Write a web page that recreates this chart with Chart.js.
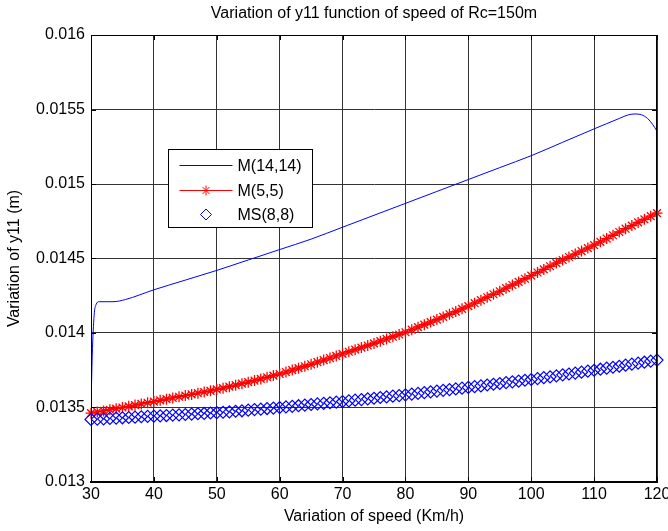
<!DOCTYPE html>
<html><head><meta charset="utf-8">
<script src="https://cdn.jsdelivr.net/npm/chart.js@4.4.0/dist/chart.umd.min.js"></script>
<style>html,body{margin:0;padding:0;background:#fff;}</style>
</head><body>
<canvas id="c" width="668" height="531"></canvas>
<script>
// ---------- data ----------
const chartTitle = 'Variation of y11 function of speed of Rc=150m';
const xAxisTitle = 'Variation of speed (Km/h)';
const yAxisTitle = 'Variation of y11 (m)';
const seriesNames = ['M(14,14)', 'M(5,5)', 'MS(8,8)'];

const xTicks = [30, 40, 50, 60, 70, 80, 90, 100, 110, 120];
const yTicks = [0.013, 0.0135, 0.014, 0.0145, 0.015, 0.0155, 0.016];
const yTickLabels = ['0.013', '0.0135', '0.014', '0.0145', '0.015', '0.0155', '0.016'];

// M(14,14) – solid blue line
const m1414Speed = [30, 30.2, 30.5, 30.8, 31.3, 33.5, 35.5, 40, 45, 50, 55, 60, 65, 70, 75, 80, 85, 90, 95, 100, 105, 110, 112, 114, 115.5, 116.5, 117.5, 118.5, 119.3, 120];
const m1414 = [0.01350, 0.01385, 0.01412, 0.01419, 0.01421, 0.01421, 0.014225, 0.01429, 0.014355, 0.01442, 0.01449, 0.01456, 0.01463, 0.01471, 0.01479, 0.01487, 0.01495, 0.01503, 0.01511, 0.01519, 0.01528, 0.01537, 0.015405, 0.01544, 0.015465, 0.01547, 0.015465, 0.01544, 0.01540, 0.015355];

// speeds for the marker series (Km/h)
const speeds = [30,31,32,33,34,35,36,37,38,39,40,41,42,43,44,45,46,47,48,49,50,51,52,53,54,55,56,57,58,59,60,61,62,63,64,65,66,67,68,69,70,71,72,73,74,75,76,77,78,79,80,81,82,83,84,85,86,87,88,89,90,91,92,93,94,95,96,97,98,99,100,101,102,103,104,105,106,107,108,109,110,111,112,113,114,115,116,117,118,119,120];

// M(5,5) – red line with star markers
const m55 = [
0.013462,0.013470,0.013477,0.013485,0.013492,0.013500,0.013508,0.013516,0.013524,0.013532,
0.013540,0.013548,0.013556,0.013564,0.013572,0.013580,0.013588,0.013596,0.013604,0.013612,
0.013621,0.013630,0.013640,0.013650,0.013660,0.013670,0.013681,0.013692,0.013703,0.013714,
0.013725,0.013738,0.013751,0.013764,0.013777,0.013790,0.013804,0.013818,0.013832,0.013846,
0.013860,0.013874,0.013888,0.013902,0.013916,0.013930,0.013945,0.013960,0.013975,0.013990,
0.014005,0.014022,0.014039,0.014056,0.014073,0.014090,0.014108,0.014126,0.014144,0.014162,
0.014180,0.014200,0.014220,0.014240,0.014260,0.014280,0.014301,0.014322,0.014343,0.014364,
0.014385,0.014406,0.014427,0.014448,0.014469,0.014490,0.014510,0.014530,0.014550,0.014570,
0.014590,0.014612,0.014634,0.014656,0.014678,0.014700,0.014721,0.014742,0.014763,0.014784,
0.014805];

// MS(8,8) – blue diamond markers
const ms88 = [
0.013420,0.013422,0.013424,0.013427,0.013429,0.013431,0.013433,0.013435,0.013438,0.013440,
0.013442,0.013444,0.013446,0.013449,0.013451,0.013453,0.013456,0.013458,0.013460,0.013463,
0.013465,0.013468,0.013471,0.013475,0.013478,0.013482,0.013486,0.013489,0.013493,0.013496,
0.013500,0.013504,0.013508,0.013512,0.013516,0.013520,0.013524,0.013528,0.013532,0.013536,
0.013540,0.013544,0.013549,0.013553,0.013558,0.013562,0.013567,0.013571,0.013576,0.013580,
0.013585,0.013590,0.013595,0.013600,0.013605,0.013610,0.013615,0.013620,0.013625,0.013630,
0.013635,0.013640,0.013645,0.013651,0.013656,0.013661,0.013667,0.013672,0.013677,0.013683,
0.013688,0.013694,0.013700,0.013706,0.013712,0.013719,0.013725,0.013731,0.013737,0.013744,
0.013750,0.013757,0.013764,0.013770,0.013777,0.013784,0.013791,0.013798,0.013804,0.013811,
0.013818];

// ---------- chart ----------
const FONT = '"Liberation Sans", Arial, Helvetica, sans-serif';
const BLUE = '#0000ff', RED = '#ff0000';
const pts = (xs, ys) => xs.map((x, i) => ({x: x, y: ys[i]}));

function drawStar(ctx, x, y, r) {
  ctx.beginPath();
  for (let k = 0; k < 4; k++) {
    const a = k * Math.PI / 4;
    ctx.moveTo(x - Math.cos(a) * r, y - Math.sin(a) * r);
    ctx.lineTo(x + Math.cos(a) * r, y + Math.sin(a) * r);
  }
  ctx.stroke();
}
function drawDiamond(ctx, x, y, r) {
  ctx.beginPath();
  ctx.moveTo(x - r, y); ctx.lineTo(x, y - r); ctx.lineTo(x + r, y); ctx.lineTo(x, y + r);
  ctx.closePath(); ctx.stroke();
}

const framePlugin = {
  id: 'frame',
  afterDatasetsDraw(chart) {
    const {ctx, chartArea: a, scales: {x, y}} = chart;
    ctx.save();
    ctx.strokeStyle = '#000';
    ctx.lineWidth = 1;
    ctx.beginPath();
    x.ticks.forEach(t => {
      const px = Math.round(x.getPixelForValue(t.value)) + 0.5;
      ctx.moveTo(px, a.bottom); ctx.lineTo(px, a.bottom - 5);
      ctx.moveTo(px, a.top); ctx.lineTo(px, a.top + 5);
    });
    y.ticks.forEach(t => {
      const py = Math.round(y.getPixelForValue(t.value)) + 0.5;
      ctx.moveTo(a.left, py); ctx.lineTo(a.left + 5, py);
      ctx.moveTo(a.right, py); ctx.lineTo(a.right - 5, py);
    });
    ctx.stroke();
    ctx.strokeRect(Math.round(a.left) + 0.5, Math.round(a.top) + 0.5,
                   Math.round(a.right - a.left) - 1, Math.round(a.bottom - a.top) - 1);
    ctx.lineWidth = 2;
    ctx.beginPath();
    ctx.moveTo(a.left, a.bottom); ctx.lineTo(a.right, a.bottom);
    ctx.stroke();

    // legend box
    const bx = Math.round(a.left + 77) + 0.5, by = Math.round(a.top + 114) + 0.5;
    const bw = 144, bh = 78;
    ctx.fillStyle = '#fff';
    ctx.fillRect(bx, by, bw, bh);
    ctx.lineWidth = 1;
    ctx.strokeStyle = '#000';
    ctx.strokeRect(bx, by, bw, bh);
    const rows = [15, 40, 64];
    const l0 = bx + 11, l1 = bx + 64, mid = (l0 + l1) / 2;
    ctx.font = '16px ' + FONT;
    ctx.textBaseline = 'middle';
    ctx.textAlign = 'left';
    ctx.fillStyle = '#000';
    rows.forEach((r, i) => {
      const yy = Math.round(by + r) + 0.5;
      if (i === 0) {
        ctx.strokeStyle = BLUE; ctx.beginPath(); ctx.moveTo(l0, yy); ctx.lineTo(l1, yy); ctx.stroke();
      } else if (i === 1) {
        ctx.strokeStyle = RED; ctx.beginPath(); ctx.moveTo(l0, yy); ctx.lineTo(l1, yy); ctx.stroke();
        drawStar(ctx, mid, yy, 5);
      } else {
        ctx.strokeStyle = BLUE; drawDiamond(ctx, mid, yy, 5.5);
      }
      ctx.fillText(seriesNames[i], bx + 69, yy + 1);
    });
    ctx.restore();
  }
};

new Chart(document.getElementById('c'), {
  type: 'line',
  data: {
    datasets: [
      { label: seriesNames[0], data: pts(m1414Speed, m1414), borderColor: BLUE, borderWidth: 1,
        pointRadius: 0, cubicInterpolationMode: 'monotone', fill: false, order: 3 },
      { label: seriesNames[1], data: pts(speeds, m55), borderColor: RED, borderWidth: 1.2,
        pointStyle: 'star', pointRadius: 5.5, pointBorderColor: RED, pointBorderWidth: 1.3,
        pointBackgroundColor: RED, tension: 0, fill: false, order: 2, clip: false },
      { label: seriesNames[2], data: pts(speeds, ms88), showLine: false, borderColor: BLUE,
        pointStyle: 'rectRot', pointRadius: 6, pointBorderColor: BLUE, pointBorderWidth: 1.2,
        pointBackgroundColor: 'rgba(0,0,0,0)', order: 1, clip: false }
    ]
  },
  options: {
    responsive: false,
    animation: false,
    events: [],
    devicePixelRatio: 1,
    layout: { padding: { left: 0, right: 11, top: 0, bottom: 0 } },
    plugins: {
      legend: { display: false },
      tooltip: { enabled: false },
      title: { display: true, text: chartTitle, color: '#000', fullSize: false,
               font: { family: FONT, size: 16, weight: 'normal' }, padding: { top: 4, bottom: 11.8 } }
    },
    scales: {
      x: {
        type: 'linear', min: 30, max: 120,
        afterBuildTicks: s => { s.ticks = xTicks.map(v => ({ value: v })); },
        grid: { color: '#333', lineWidth: 1, drawTicks: false },
        border: { display: true, color: '#000', width: 2 },
        ticks: { color: '#000', font: { family: FONT, size: 16 }, padding: 3, maxRotation: 0,
                 autoSkip: false, callback: v => String(v) },
        title: { display: true, text: xAxisTitle, color: '#000', font: { family: FONT, size: 16 },
                 padding: { top: 0, bottom: 4.4 } },
        afterFit: s => { s.height = 49; s.paddingLeft = 0; s.paddingRight = 0; }
      },
      y: {
        type: 'linear', min: 0.013, max: 0.016,
        afterBuildTicks: s => { s.ticks = yTicks.map(v => ({ value: v })); },
        grid: { color: '#333', lineWidth: 1, drawTicks: false },
        border: { display: true, color: '#000', width: 1 },
        ticks: { color: '#000', font: { family: FONT, size: 16 }, padding: 6, autoSkip: false,
                 callback: (v, i) => yTickLabels[i] },
        title: { display: true, text: yAxisTitle, color: '#000', font: { family: FONT, size: 16 },
                 padding: { top: 5.4, bottom: 0 } },
        afterFit: s => { s.width = 91; s.paddingTop = 0; s.paddingBottom = 0; }
      }
    }
  },
  plugins: [framePlugin]
});
</script>
</body></html>
